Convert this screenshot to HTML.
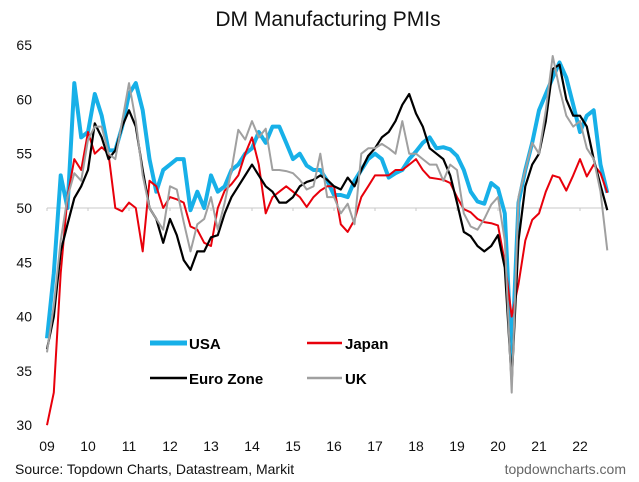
<!DOCTYPE html>
<html><head><meta charset="utf-8"><style>
body{margin:0;background:#fff;}
svg{display:block;font-family:"Liberation Sans",Arial,sans-serif;}
</style></head><body>
<svg id="chart" width="639" height="482" viewBox="0 0 639 482" xmlns="http://www.w3.org/2000/svg">
<text x="328" y="26" font-size="21" text-anchor="middle" fill="#111">DM Manufacturing PMIs</text>
<g id="yaxis"></g>
<g id="xaxis"></g>
<g id="series"></g>
<g>
 <line x1="150" y1="343" x2="187" y2="343" stroke="#17b0e8" stroke-width="5"/>
 <text x="189" y="349" font-size="15" font-weight="bold">USA</text>
 <line x1="307" y1="343" x2="342" y2="343" stroke="#e8000b" stroke-width="2.5"/>
 <text x="345" y="349" font-size="15" font-weight="bold">Japan</text>
 <line x1="150" y1="378" x2="187" y2="378" stroke="#000" stroke-width="2.5"/>
 <text x="189" y="384" font-size="15" font-weight="bold">Euro Zone</text>
 <line x1="307" y1="378" x2="342" y2="378" stroke="#a0a0a0" stroke-width="2.5"/>
 <text x="345" y="384" font-size="15" font-weight="bold">UK</text>
</g>
<text x="15" y="474" font-size="14" fill="#111">Source: Topdown Charts, Datastream, Markit</text>
<text x="626" y="474" font-size="14" fill="#666" text-anchor="end">topdowncharts.com</text>
</svg>
<script>
const yearLabels=["09","10","11","12","13","14","15","16","17","18","19","20","21","22"];
const yTicks=[30,35,40,45,50,55,60,65];
const startYear=2009;
const stepYears=1/6;
const usa=[38,44,53,50,61.5,56.5, 57,60.5,58.5,55.3,55.3,57.5, 60.5,61.5,59,54.5,51.5,53.5, 54,54.5,54.5,49.8,51.5,50, 53,51.5,52,53.5,54,55, 55.5,57,56,57.5,57.5,56, 54.5,55,53.9,53.5,53.5,52.5, 51.2,51.2,51,52.5,53.5,54.5, 55,54.5,52.8,53.2,53.5,54.5, 55.2,56,56.5,55.5,55.6,55.4, 54.8,53.5,51.5,50.6,50.4,52.3, 51.8,49.5,36,50.5,53.5,56, 59,60.5,62,63.4,62,59.5, 57,58.5,59,54,51.4];
const japan=[30,33,44,51,54.5,53.5, 57,55,55.6,55,50,49.7, 50.5,50,46,52.5,52,50, 51,50.8,50.5,48.3,48,46.8, 46.5,50,51.6,52.2,53,55, 56.5,54,49.5,51,51.5,52, 51.5,51,50.1,51,51.6,52, 52,48.5,47.8,48.9,51,52, 53,53,53,53.5,53.5,54, 54.5,53.5,52.8,52.7,52.6,52.3, 51,49.9,49.6,49,48.7,48.6, 48.4,45,40,43,47,48.9, 49.5,51.5,53,52.8,51.6,53, 54.5,52.9,54,53.2,51.4];
const euro=[37,40,46,48.5,50.9,52, 53.5,57.8,56.5,54.5,55.3,57.5, 59,57.5,53.5,50,49,46.8, 49,47.5,45.2,44.3,46,46, 47.3,47.5,49.5,51,52,53, 54,53,52,51.5,50.5,50.5, 51,52,52.4,52.6,53,52.6, 52,51.7,52.8,52,53.5,54.8, 55.5,56.5,57,58,59.5,60.5, 58.7,57.5,55.5,55,54.5,53, 50.5,47.8,47.4,46.5,46,46.5, 47.5,44.5,34,47,52,54, 55,58,62.8,63.2,60,58.5, 58.5,57.5,54.5,52.1,49.8];
const uk=[36.7,41,47,51,53.2,52.5, 56.3,57.5,57.5,55,54.5,58, 61.5,58,53,50,49,48, 52,51.7,48.7,46,48.5,49, 51,48,50.5,53.5,57.2,56.3, 58,56.5,57.3,53.5,53.5,53.4, 53.2,52.6,51.7,52,55,51, 51,49.5,50.4,48.5,55,55.5, 55.5,55.9,55.5,55,58,55, 55,54.5,54,54,52.5,54, 53.5,49.5,48.3,48,49,50.3, 51,47,33,51,53.5,56, 55,59,64,61,58.5,57.5, 58,55.5,54.5,51.5,46.1];

const NS="http://www.w3.org/2000/svg";
const xPix=t=>47+(t-startYear)*41;
const yPix=v=>208-(v-50)*10.86;
function mk(tag,attrs,parent){const e=document.createElementNS(NS,tag);for(const k in attrs)e.setAttribute(k,attrs[k]);parent.appendChild(e);return e;}
const yax=document.getElementById('yaxis');
yTicks.forEach(v=>{
  const t=mk('text',{x:32,y:yPix(v)+5,'font-size':14,'text-anchor':'end',fill:'#111'},yax);
  
  
  t.textContent=v;
});
const xax=document.getElementById('xaxis');
const base=mk('line',{x1:xPix(startYear),x2:608,y1:yPix(50),y2:yPix(50),stroke:'#c8c8c8','stroke-width':1},xax);


yearLabels.forEach((l,i)=>{
  const x=xPix(startYear+i);
  const tk=mk('line',{x1:x,x2:x,y1:yPix(50),y2:yPix(50)+3,stroke:'#c8c8c8'},xax);
  
  
  const t=mk('text',{x:x,y:451,'font-size':14,'text-anchor':'middle',fill:'#111'},xax);
  
  
  t.textContent=l;
});
const sg=document.getElementById('series');
function draw(arr,color,w,name){
  const d=arr.map((v,i)=>(i?'L':'M')+xPix(startYear+i*stepYears).toFixed(1)+','+yPix(v).toFixed(1)).join('');
  const p=mk('path',{d:d,fill:'none',stroke:color,'stroke-width':w,'stroke-linejoin':'round'},sg);
  
  
}
draw(usa,'#17b0e8',4,'usa-line');
draw(japan,'#e8000b',2,'japan-line');
draw(euro,'#000',2.2,'euro-zone-line');
draw(uk,'#a0a0a0',2,'uk-line');
</script>
</body></html>
